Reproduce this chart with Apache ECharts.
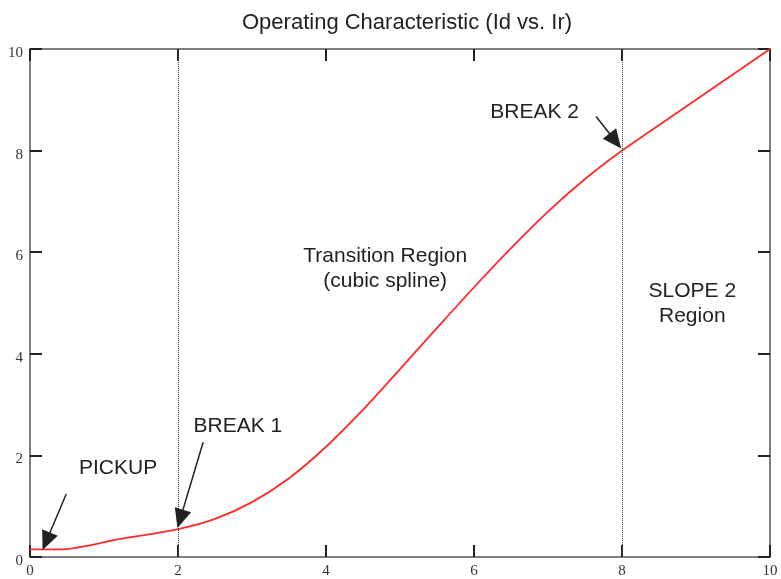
<!DOCTYPE html>
<html><head><meta charset="utf-8">
<script src="https://cdn.jsdelivr.net/npm/echarts@6/dist/echarts.min.js"></script>
<style>html,body{margin:0;padding:0;background:#fff}#c{width:781px;height:579px}</style>
</head><body><div id="c"></div>
<script>
const titleText = 'Operating Characteristic (Id vs. Ir)';
const curveX = [0, 0.4, 1.2, 2, 2.5, 3, 3.5, 4, 4.5, 5, 5.5, 6, 6.5, 7, 7.5, 8, 9, 10];
const curveY = [0.15, 0.15, 0.35, 0.55, 0.75, 1.08, 1.55, 2.17, 2.9, 3.7, 4.51, 5.31, 6.08, 6.8, 7.44, 8.0, 9.0, 10];
const breakLines = [2, 8];
const annotations = ['PICKUP', 'BREAK 1', 'Transition Region\n(cubic spline)', 'BREAK 2', 'SLOPE 2\nRegion'];
const annotX = [1.19, 2.81, 4.80, 6.82, 8.95];
const annotY = [1.74, 2.57, 5.68, 8.76, 4.98];
const arrowFrom = [[0.49, 1.24], [2.34, 2.26], [7.65, 8.67]];
const arrowTo = [[0.22, 0.31], [2.03, 0.75], [7.91, 8.19]];

const chart = echarts.init(document.getElementById('c'), null, {renderer: 'canvas'});
const labelFont = {fontFamily: '"Liberation Serif", "DejaVu Serif", serif', fontSize: 15, color: '#333'};
const axisCommon = {
  type: 'value', min: 0, max: 10, interval: 2,
  axisLine: {show: true, onZero: false, lineStyle: {color: '#555', width: 1.5}},
  axisTick: {show: true, inside: true, length: 12, lineStyle: {color: '#222', width: 2}},
  splitLine: {show: false},
  axisLabel: labelFont
};
const annFont = {fontFamily: '"Liberation Sans", Arial, sans-serif', fontSize: 21, color: '#222', lineHeight: 25};
chart.setOption({
  animation: false,
  title: {text: titleText, left: 237, top: 7,
    textStyle: {fontFamily: '"Liberation Sans", Arial, sans-serif', fontSize: 22, fontWeight: 'normal', color: '#222'}},
  grid: {left: 30, right: 11, top: 49, bottom: 20, containLabel: false},
  xAxis: [
    Object.assign({}, axisCommon, {position: 'bottom', axisLabel: Object.assign({}, labelFont, {margin: 7})}),
    Object.assign({}, axisCommon, {position: 'top', axisLabel: {show: false}})
  ],
  yAxis: [
    Object.assign({}, axisCommon, {position: 'left', axisLabel: Object.assign({}, labelFont, {
      margin: 7,
      formatter: v => '{a|' + v + '}',
      rich: {a: Object.assign({}, labelFont, {padding: [8, 0, 0, 0]})}
    })}),
    Object.assign({}, axisCommon, {position: 'right', axisLabel: {show: false}})
  ],
  series: [
    {
      type: 'line', xAxisIndex: 0, yAxisIndex: 0,
      data: curveX.map((x, i) => [x, curveY[i]]),
      smooth: 0.3, showSymbol: false, symbol: 'none',
      lineStyle: {color: '#ff2a2a', width: 1.8},
      z: 3,
      markLine: {
        silent: true, symbol: ['none', 'none'], animation: false,
        label: {show: false},
        lineStyle: {color: '#444', type: 'dotted', width: 1},
        data: breakLines.map(v => ({xAxis: v}))
      }
    },
    {
      type: 'line', xAxisIndex: 0, yAxisIndex: 0, data: [], z: 5,
      markLine: {
        silent: true, symbol: ['none', 'triangle'], symbolSize: [17, 19], animation: false,
        label: {show: false},
        lineStyle: {color: '#222', type: 'solid', width: 1.5},
        data: arrowFrom.map((f, i) => [{coord: f}, {coord: arrowTo[i]}])
      },
      markPoint: {
        silent: true, symbol: 'circle', symbolSize: 0, animation: false,
        label: Object.assign({show: true, position: 'inside', align: 'center', verticalAlign: 'middle'}, annFont),
        data: annotations.map((t, i) => ({coord: [annotX[i], annotY[i]], value: t, label: {formatter: t}}))
      }
    }
  ]
});
</script></body></html>
